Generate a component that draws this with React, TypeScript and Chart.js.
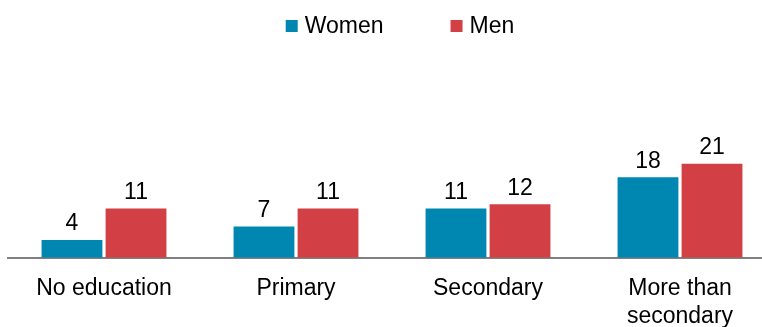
import React, { useEffect, useRef } from "react";
import { Chart, registerables } from "chart.js";

Chart.register(...registerables);

const categories: (string | string[])[] = ["No education", "Primary", "Secondary", ["More than", "secondary"]];
const women = [4, 7, 11, 18];
const men = [11, 11, 12, 21];
const seriesNames = ["Women", "Men"];
const seriesColors = ["#0087B1", "#D24045"];

const FONT = "'Liberation Sans', Arial, Helvetica, sans-serif";

export default function App() {
  const ref = useRef<HTMLCanvasElement>(null);

  useEffect(() => {
    document.body.style.margin = "0";
    document.body.style.overflow = "hidden";
    const canvas = ref.current;
    if (!canvas) return;

    const valueLabels = {
      id: "valueLabels",
      afterDatasetsDraw(chart: any) {
        const ctx = chart.ctx;
        ctx.save();
        ctx.font = `23px ${FONT}`;
        ctx.fillStyle = "#000";
        ctx.textAlign = "center";
        ctx.textBaseline = "alphabetic";
        chart.data.datasets.forEach((ds: any, i: number) => {
          const meta = chart.getDatasetMeta(i);
          meta.data.forEach((bar: any, j: number) => {
            ctx.fillText(String(ds.data[j]), bar.x, bar.y - 9.5);
          });
        });
        ctx.restore();
      },
    };

    const customLegend = {
      id: "customLegend",
      afterDraw(chart: any) {
        const ctx = chart.ctx;
        ctx.save();
        ctx.font = `23px ${FONT}`;
        const box = 12;
        const gap = 7;
        const itemGap = 67;
        const items = chart.data.datasets.map((ds: any) => ({
          label: ds.label,
          color: ds.backgroundColor,
          w: box + gap + ctx.measureText(ds.label).width,
        }));
        const total = items.reduce((a: number, it: any) => a + it.w, 0) + itemGap * (items.length - 1);
        let x = 400 - total / 2;
        const cy = 26;
        ctx.textBaseline = "middle";
        ctx.textAlign = "left";
        items.forEach((it: any) => {
          ctx.fillStyle = it.color;
          ctx.fillRect(x, cy - 6, box, box);
          ctx.fillStyle = "#000";
          ctx.fillText(it.label, x + box + gap, cy + 1);
          x += it.w + itemGap;
        });
        ctx.restore();
      },
    };

    const chart = new Chart(canvas, {
      type: "bar",
      data: {
        labels: categories,
        datasets: [
          {
            label: seriesNames[0],
            data: women,
            backgroundColor: seriesColors[0],
            barPercentage: 0.95,
            categoryPercentage: 0.667,
          },
          {
            label: seriesNames[1],
            data: men,
            backgroundColor: seriesColors[1],
            barPercentage: 0.95,
            categoryPercentage: 0.667,
          },
        ],
      },
      options: {
        responsive: false,
        animation: false,
        layout: { padding: { left: 8, right: 14, top: 61, bottom: 10 } },
        plugins: {
          legend: { display: false },
          tooltip: { enabled: false },
        },
        scales: {
          x: {
            grid: { display: false, drawTicks: false },
            border: { display: true, color: "#808080", width: 2 },
            ticks: {
              color: "#000",
              font: { family: FONT, size: 23, lineHeight: 1.2 },
              padding: 17.5,
              maxRotation: 0,
              autoSkip: false,
            },
          },
          y: {
            display: false,
            min: 0,
            max: 44,
          },
        },
      },
      plugins: [valueLabels, customLegend],
    });
    return () => chart.destroy();
  }, []);

  return (
    <div style={{ width: 762, height: 327, overflow: "hidden", position: "relative", background: "#fff" }}>
      <canvas ref={ref} width={790} height={358} style={{ display: "block" }} />
    </div>
  );
}
